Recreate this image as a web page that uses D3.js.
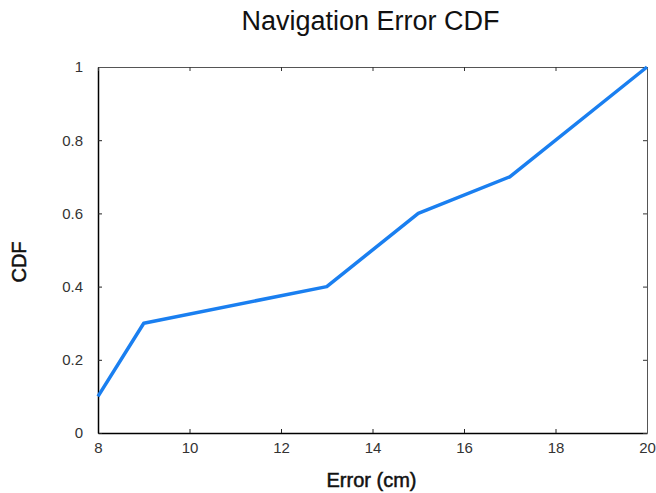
<!DOCTYPE html>
<html>
<head>
<meta charset="utf-8">
<script src="https://cdn.jsdelivr.net/npm/d3@7"></script>
<style>
  body { margin: 0; background: #fff; }
  svg { font-family: 'Liberation Sans', Arial, sans-serif; }
</style>
</head>
<body>
<div id="chart"></div>
<script>
// Data
const errorCm = [8, 9, 13, 15, 17, 20];
const cdfValues = [0.1, 0.3, 0.4, 0.6, 0.7, 1.0];
const xTicks = [8, 10, 12, 14, 16, 18, 20];
const yTicks = [0, 0.2, 0.4, 0.6, 0.8, 1];

const width = 656;
const height = 493;
const margin = { top: 67, right: 9, bottom: 60, left: 98 };
const innerW = width - margin.left - margin.right;
const innerH = height - margin.top - margin.bottom;

const svg = d3.select('#chart')
  .append('svg')
  .attr('width', width)
  .attr('height', height);

const g = svg.append('g')
  .attr('transform', `translate(${margin.left},${margin.top})`);

const x = d3.scaleLinear().domain([8, 20]).range([0, innerW]);
const y = d3.scaleLinear().domain([0, 1]).range([innerH, 0]);

// Axes with inward ticks on all sides
const bottomAxis = g.append('g')
  .attr('transform', `translate(0,${innerH})`)
  .call(d3.axisBottom(x).tickValues(xTicks).tickSizeInner(-4).tickSizeOuter(0).tickPadding(9));
const leftAxis = g.append('g')
  .call(d3.axisLeft(y).tickValues(yTicks).tickFormat(d3.format('')).tickSizeInner(-4).tickSizeOuter(0).tickPadding(15));
const topAxis = g.append('g')
  .call(d3.axisTop(x).tickValues(xTicks).tickSizeInner(-4).tickSizeOuter(0).tickFormat(''));
const rightAxis = g.append('g')
  .attr('transform', `translate(${innerW},0)`)
  .call(d3.axisRight(y).tickValues(yTicks).tickSizeInner(-4).tickSizeOuter(0).tickFormat(''));

[bottomAxis, leftAxis].forEach(a => {
  a.select('.domain').attr('stroke', '#000').attr('stroke-width', 1.5);
  a.selectAll('.tick line').attr('stroke', '#222');
  a.selectAll('.tick text')
    .attr('font-family', "'Liberation Sans', Arial, sans-serif")
    .attr('font-size', 15)
    .attr('fill', '#333');
});
[topAxis, rightAxis].forEach(a => {
  a.select('.domain').attr('stroke', '#555');
  a.selectAll('.tick line').attr('stroke', '#333');
});

// Line
const points = errorCm.map((e, i) => ({ e, c: cdfValues[i] }));
const line = d3.line().x(d => x(d.e)).y(d => y(d.c));

g.append('path')
  .datum(points)
  .attr('fill', 'none')
  .attr('stroke', '#1a7ff0')
  .attr('stroke-width', 3.5)
  .attr('stroke-linejoin', 'round')
  .attr('d', line);

// Title
svg.append('text')
  .attr('x', margin.left + innerW / 2 - 2)
  .attr('y', 30)
  .attr('text-anchor', 'middle')
  .attr('font-size', 27)
  .attr('fill', '#111')
  .text('Navigation Error CDF');

// Axis labels (medium weight)
svg.append('text')
  .attr('x', margin.left + innerW / 2 - 1)
  .attr('y', 487)
  .attr('text-anchor', 'middle')
  .attr('font-size', 20)
  .attr('fill', '#111')
  .attr('stroke', '#111')
  .attr('stroke-width', 0.5)
  .text('Error (cm)');

svg.append('text')
  .attr('transform', `translate(26,${margin.top + innerH / 2 + 12}) rotate(-90)`)
  .attr('text-anchor', 'middle')
  .attr('font-size', 20)
  .attr('fill', '#111')
  .attr('stroke', '#111')
  .attr('stroke-width', 0.5)
  .text('CDF');
</script>
</body>
</html>
